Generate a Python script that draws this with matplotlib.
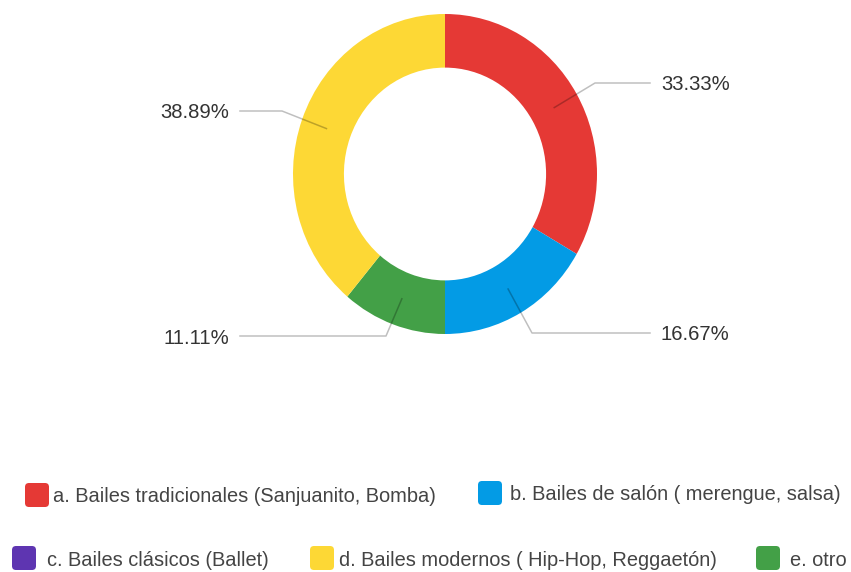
import numpy as np
import matplotlib
matplotlib.use("Agg")
import matplotlib.pyplot as plt
from matplotlib.patches import FancyBboxPatch

# legend order (a..e)
categories = ["a. Bailes tradicionales (Sanjuanito, Bomba)",
              "b. Bailes de salón ( merengue, salsa)",
              "c. Bailes clásicos (Ballet)",
              "d. Bailes modernos ( Hip-Hop, Reggaetón)",
              "e. otro"]
values = [33.33, 16.67, 0.0, 38.89, 11.11]
colors = ["#e53935", "#039be5", "#5e35b1", "#fdd835", "#43a047"]

# order of slices around the ring, clockwise from the top
ring_order = [0, 1, 2, 4, 3]

W, H = 851, 572
fig = plt.figure(figsize=(W / 100, H / 100), dpi=100)

# donut box (pixels)
cx, cy, rx, ry = 445, 174, 152, 160
pax = fig.add_axes([(cx - rx) / W, 1 - (cy + ry) / H, 2 * rx / W, 2 * ry / H])
ring_vals = [values[i] for i in ring_order if values[i] > 0]
ring_cols = [colors[i] for i in ring_order if values[i] > 0]
wedges, _ = pax.pie(ring_vals, colors=ring_cols, startangle=90, counterclock=False,
                    radius=1.0, wedgeprops=dict(width=0.335, linewidth=0))
pax.set_xlim(-1, 1)
pax.set_ylim(-1, 1)
pax.set_aspect("auto")
pax.axis("off")

# overlay axes in pixel coords (y downwards), on top of the donut
ax = fig.add_axes([0, 0, 1, 1])
ax.set_xlim(0, W)
ax.set_ylim(H, 0)
ax.patch.set_alpha(0)
ax.axis("off")

# label layout: (elbow x, label y, text side)
label_pos = {
    0: (595, 83, "right"),
    1: (532, 333, "right"),
    4: (386, 336, "left"),
    3: (282, 111, "left"),
}
k = 0
for i in ring_order:
    if values[i] <= 0:
        continue
    w = wedges[k]
    k += 1
    mid = np.deg2rad((w.theta1 + w.theta2) / 2)
    r = 0.83
    px = cx + rx * r * np.cos(mid)
    py = cy - ry * r * np.sin(mid)
    ex, ly, side = label_pos[i]
    if side == "right":
        xs = [px, ex, 650]
        tx, ha = 661, "left"
    else:
        xs = [px, ex, 240]
        tx, ha = 229, "right"
    ax.plot(xs, [py, ly, ly], color="black", alpha=0.25, lw=1.1, zorder=5)
    ax.text(tx, ly + 2, f"{values[i]:.2f}%", ha=ha, va="center", fontsize=14.6,
            color="#333333", family="Liberation Sans")

# legend
legend_pos = [(37, 495, 53), (490, 493, 510), (24, 558, 47), (322, 558, 339), (768, 558, 790)]
for (mx, my, tx), lab, col in zip(legend_pos, categories, colors):
    s = 24
    box = FancyBboxPatch((mx - s / 2, my - s / 2), s, s,
                         boxstyle="round,pad=0,rounding_size=4",
                         facecolor=col, edgecolor="none")
    ax.add_patch(box)
    ax.text(tx, my + 2, lab, ha="left", va="center", fontsize=14.4,
            color="#444444", family="Liberation Sans")

fig.savefig("out.png", dpi=100)
